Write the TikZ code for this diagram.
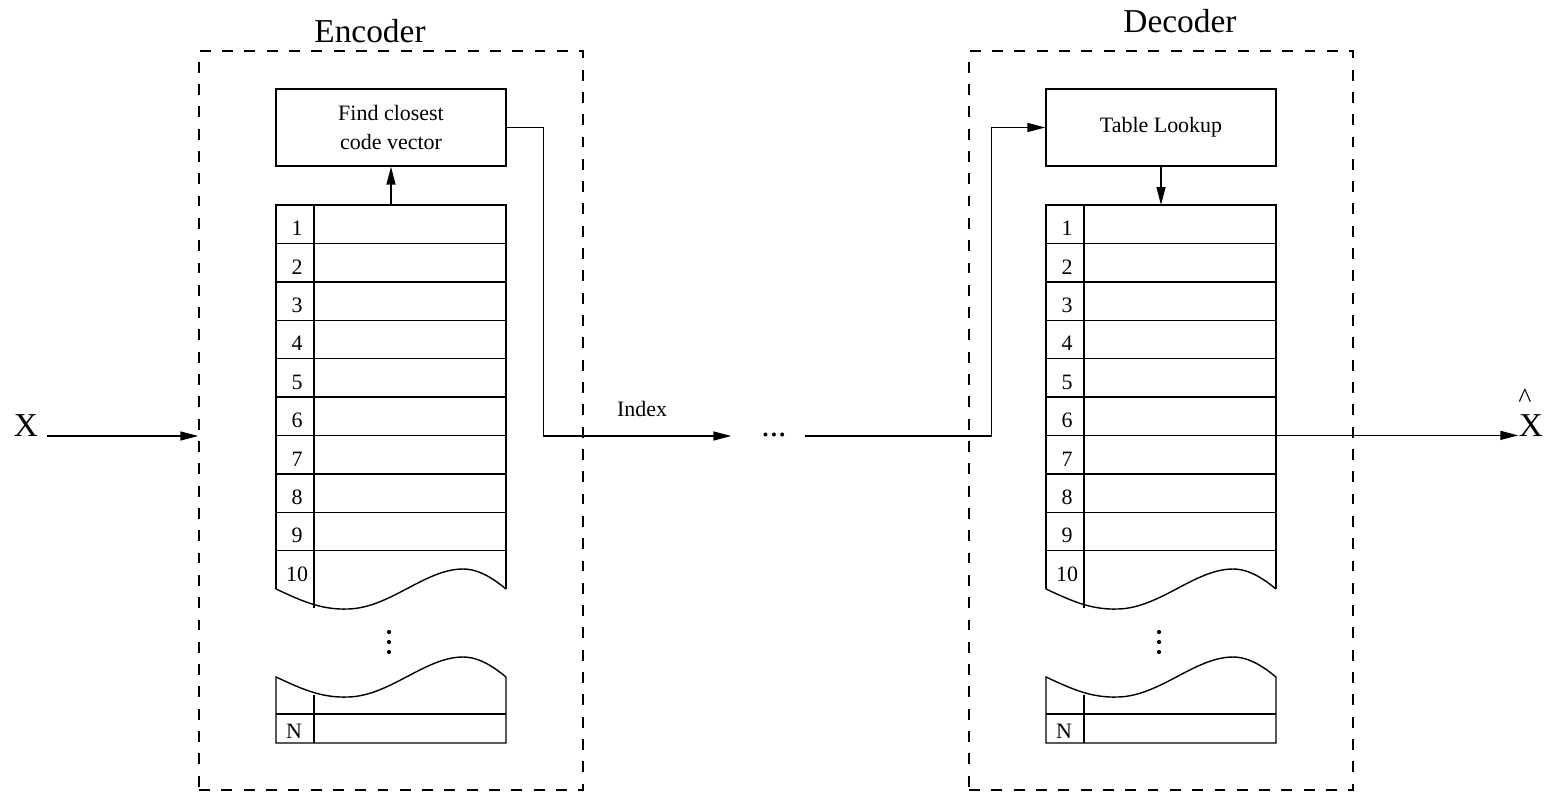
\documentclass[tikz,border=0pt]{standalone}
\usepackage{fontspec}
\setmainfont{Liberation Serif}
\usetikzlibrary{arrows.meta,positioning}

% one code book column (rows 1 to 10, a gap, row N)
\newcommand{\codebook}{%
    \draw (276,589) -- (276,205) -- (506,205) -- (506,589);
    \foreach \k in {1,...,9}
        \draw (276,{205+38.4*\k}) -- (506,{205+38.4*\k});
    \foreach \k in {1,...,10}
        \node[rownum] at (297,{228.5+38.4*(\k-1)}) {\k};
    % wavy cut below row 10
    \draw (276,589) .. controls (300,600) and (320,610) .. (348,609)
        .. controls (390,608) and (425,569) .. (463,569)
        .. controls (480,569) and (495,580) .. (506,589);
    \draw (314,205) -- (314,608);
    % vertical dots
    \foreach \d in {632,642,652}
        \fill (389,\d) circle (0.042cm);
    % last row
    \draw (276,743) -- (276,677) .. controls (300,688) and (320,698) .. (348,697)
        .. controls (390,696) and (425,657) .. (463,657)
        .. controls (480,657) and (495,668) .. (506,677) -- (506,743) -- cycle;
    \draw (276,714) -- (506,714);
    \draw (314,695) -- (314,743);
    \node[rownum] at (294,731) {N};
}

\begin{document}
\begin{tikzpicture}[x=0.02cm, y=-0.02cm, line width=0.8pt,
        >={Triangle[length=0.36cm, width=0.18cm]},
        smalltext/.style={font=\fontsize{12.5}{16}\selectfont},
        bigtext/.style={font=\fontsize{19}{22}\selectfont, inner sep=0pt},
        rownum/.style={smalltext, inner sep=0pt},
        block/.style={draw, smalltext, align=center, minimum width=4.6cm, minimum height=1.54cm},
        dashbox/.style={draw, dash pattern=on 6.2pt off 6.5pt, minimum width=7.68cm, minimum height=14.78cm, inner sep=0pt}]
    \useasboundingbox (0,0) rectangle (1551,792);

    % Encoder and decoder frames
    \node (enc) [dashbox] at (391,420.5) {};
    \node (dec) [dashbox] at (1161,420.5) {};
    \node (enctitle) [bigtext, anchor=base] at (370,42) {Encoder};
    \node (dectitle) [bigtext, anchor=base] at (1180,32) {Decoder};

    % Blocks
    \node (find) [block] at (391,127.5) {Find closest\\code vector};
    \node (lookup) [block] at (1161,127.5) {Table Lookup};

    % Code books
    \codebook
    \begin{scope}[shift={(770,0)}]
        \codebook
    \end{scope}
    \coordinate (enctop) at (391,205);
    \coordinate (dectop) at (1161,205);
    \coordinate (decout) at (1276,435.4);

    % Channel
    \node (dots) [bigtext, anchor=base] at (774,436) {...};
    \node (index) [smalltext, anchor=base] at (642,416) {Index};

    % Input and output
    \node (xin) [bigtext, anchor=base] at (26,436) {X};
    \node (xhat) [bigtext, anchor=base] at (1531,436) {X};
    \node (hat) [font=\fontsize{16}{18}\selectfont, inner sep=0pt, above=0.1cm of xhat, xshift=-0.12cm] {\textasciicircum};

    % Connectors
    \draw[->, shorten <=0.16cm] (xin.base east) -- (xin.base east -| enc.west);
    \draw[->] (enctop) -- (find.south);
    \draw[->, shorten >=0.59cm] (find.east) -- ++(37,0) |- (dots.base west);
    \draw[->, shorten <=0.35cm] (dots.base east) -- ++(204,0) |- (lookup.west);
    \draw[->] (lookup.south) -- (dectop);
    \draw[->] (decout) -- (decout -| xhat.west);
\end{tikzpicture}
\end{document}
